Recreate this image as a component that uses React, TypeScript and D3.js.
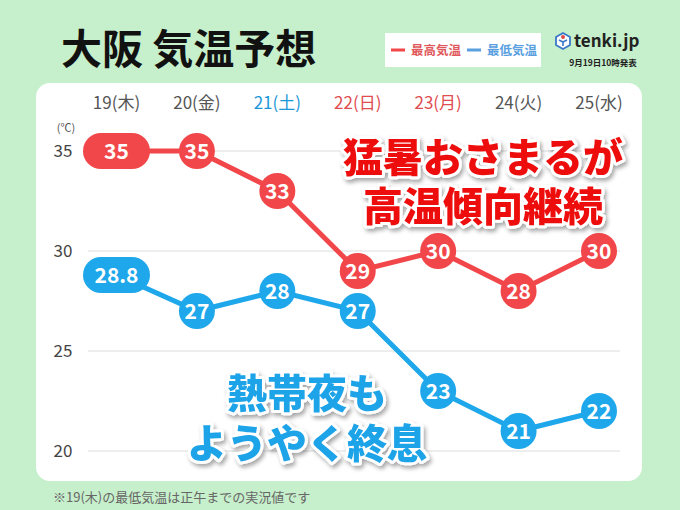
import React from 'react';
import * as d3 from 'd3';

const days = ['19(木)', '20(金)', '21(土)', '22(日)', '23(月)', '24(火)', '25(水)'];
const highs = [35, 35, 33, 29, 30, 28, 30];
const lows = [28.8, 27, 28, 27, 23, 21, 22];
const yTicks = [35, 30, 25, 20];
const holidayIdx = [3, 4];
const saturdayIdx = [2];
const titleText = '大阪 気温予想';
const legendHigh = '最高気温';
const legendLow = '最低気温';
const issued = '9月19日10時発表';
const note = '※19(木)の最低気温は正午までの実況値です';
const redMsg = ['猛暑おさまるが', '高温傾向継続'];
const blueMsg = ['熱帯夜も', 'ようやく終息'];

const RED = '#f2474a';
const BLUE = '#1ea7ea';
const FONT = "'Noto Sans CJK JP', 'Noto Sans', sans-serif";

export default function App() {
  const W = 680, H = 510;
  const x = d3.scalePoint<string>().domain(days).range([116.5, 599]);
  const y = d3.scaleLinear().domain([20, 35]).range([451, 151]);
  const line = d3.line<number>().x((_, i) => x(days[i]) as number).y(d => y(d));

  const dayColor = (i: number) =>
    holidayIdx.includes(i) ? '#e04c50' : saturdayIdx.includes(i) ? '#1a97d8' : '#555';

  const marker = (v: number, i: number, color: string, key: string) => {
    const cx = x(days[i]) as number;
    const cy = y(v);
    const label = Number.isInteger(v) ? String(v) : v.toFixed(1);
    const wide = i === 0;
    return (
      <g key={key}>
        {wide ? (
          <rect x={cx - 33.5} y={cy - 18} width={67} height={36} rx={18} fill={color} />
        ) : (
          <circle cx={cx} cy={cy} r={18} fill={color} />
        )}
        <text x={cx} y={cy + 7.5} textAnchor="middle" fontSize={21} fontWeight="bold" fill="#fff" fontFamily={FONT}>
          {label}
        </text>
      </g>
    );
  };

  return (
    <svg width={W} height={H} style={{ position: 'absolute', left: 0, top: 0 }} fontFamily={FONT}>
      <defs>
        <filter id="sh" x="-10%" y="-20%" width="130%" height="150%">
          <feDropShadow dx="2" dy="3" stdDeviation="2" floodColor="#000" floodOpacity="0.35" />
        </filter>
      </defs>
      <rect width={W} height={H} fill="#c6efcb" />
      {/* title */}
      <text x={61} y={64} fontSize={41} fontWeight="bold" fill="#111">{titleText}</text>
      {/* legend */}
      <rect x={385} y={33} width={156} height={34} fill="#fff" />
      <line x1={391} x2={405} y1={50} y2={50} stroke={RED} strokeWidth={3} />
      <text x={411} y={54.5} fontSize={12.5} fill="#e0585c" fontWeight="bold">{legendHigh}</text>
      <line x1={467} x2={481} y1={50} y2={50} stroke="#5a9fe0" strokeWidth={3} />
      <text x={487} y={54.5} fontSize={12.5} fill="#5a9fe0" fontWeight="bold">{legendLow}</text>
      {/* logo */}
      <g transform="translate(563,41)">
        <polygon points="0,-8 7,-4 7,4 0,8 -7,4 -7,-4" fill="#fff" stroke="#3a78c8" strokeWidth={1.8} />
        <path d="M-4,-1 L0,1 L4,-1 M0,1 L0,5" stroke="#3a78c8" strokeWidth={1.6} fill="none" />
        <circle cx={0} cy={-4} r={2} fill="#e24a4a" />
      </g>
      <text x={574} y={47} fontSize={17} fontWeight="bold" fill="#222">tenki.jp</text>
      <text x={603} y={66} fontSize={8.5} fontWeight="bold" fill="#222" textAnchor="middle">{issued}</text>
      {/* panel */}
      <rect x={36} y={83} width={606} height={398} rx={14} fill="#fff" />
      {/* day labels */}
      {days.map((d, i) => (
        <text key={d} x={x(d) as number} y={109} textAnchor="middle" fontSize={17} fill={dayColor(i)}>{d}</text>
      ))}
      {/* y axis */}
      <text x={66} y={132} textAnchor="middle" fontSize={11} fill="#555">(℃)</text>
      {yTicks.map(t => (
        <g key={t}>
          <line x1={88} x2={620} y1={y(t)} y2={y(t)} stroke="#dcdcdc" strokeWidth={1} />
          <text x={63} y={y(t) + 6} textAnchor="middle" fontSize={17} fill="#444">{t}</text>
        </g>
      ))}
      {/* lines */}
      <path d={line(highs) || ''} fill="none" stroke={RED} strokeWidth={5} />
      <path d={line(lows) || ''} fill="none" stroke={BLUE} strokeWidth={5} />
      {highs.map((v, i) => marker(v, i, RED, 'h' + i))}
      {lows.map((v, i) => marker(v, i, BLUE, 'l' + i))}
      {/* overlay messages */}
      <g filter="url(#sh)" fontWeight="900" fontSize={40} textAnchor="middle" stroke="#fff" strokeWidth={6} paintOrder="stroke" strokeLinejoin="round">
        <text x={483} y={172} fill="#ee0d0d">
          {redMsg.map((m, i) => (
            <tspan key={m} x={483} dy={i === 0 ? 0 : 49}>{m}</tspan>
          ))}
        </text>
        <text x={307} y={408} fill="#1ea3e8">
          {blueMsg.map((m, i) => (
            <tspan key={m} x={307} dy={i === 0 ? 0 : 50}>{m}</tspan>
          ))}
        </text>
      </g>
      {/* note */}
      <text x={53} y={502} fontSize={13} fill="#666">{note}</text>
    </svg>
  );
}
